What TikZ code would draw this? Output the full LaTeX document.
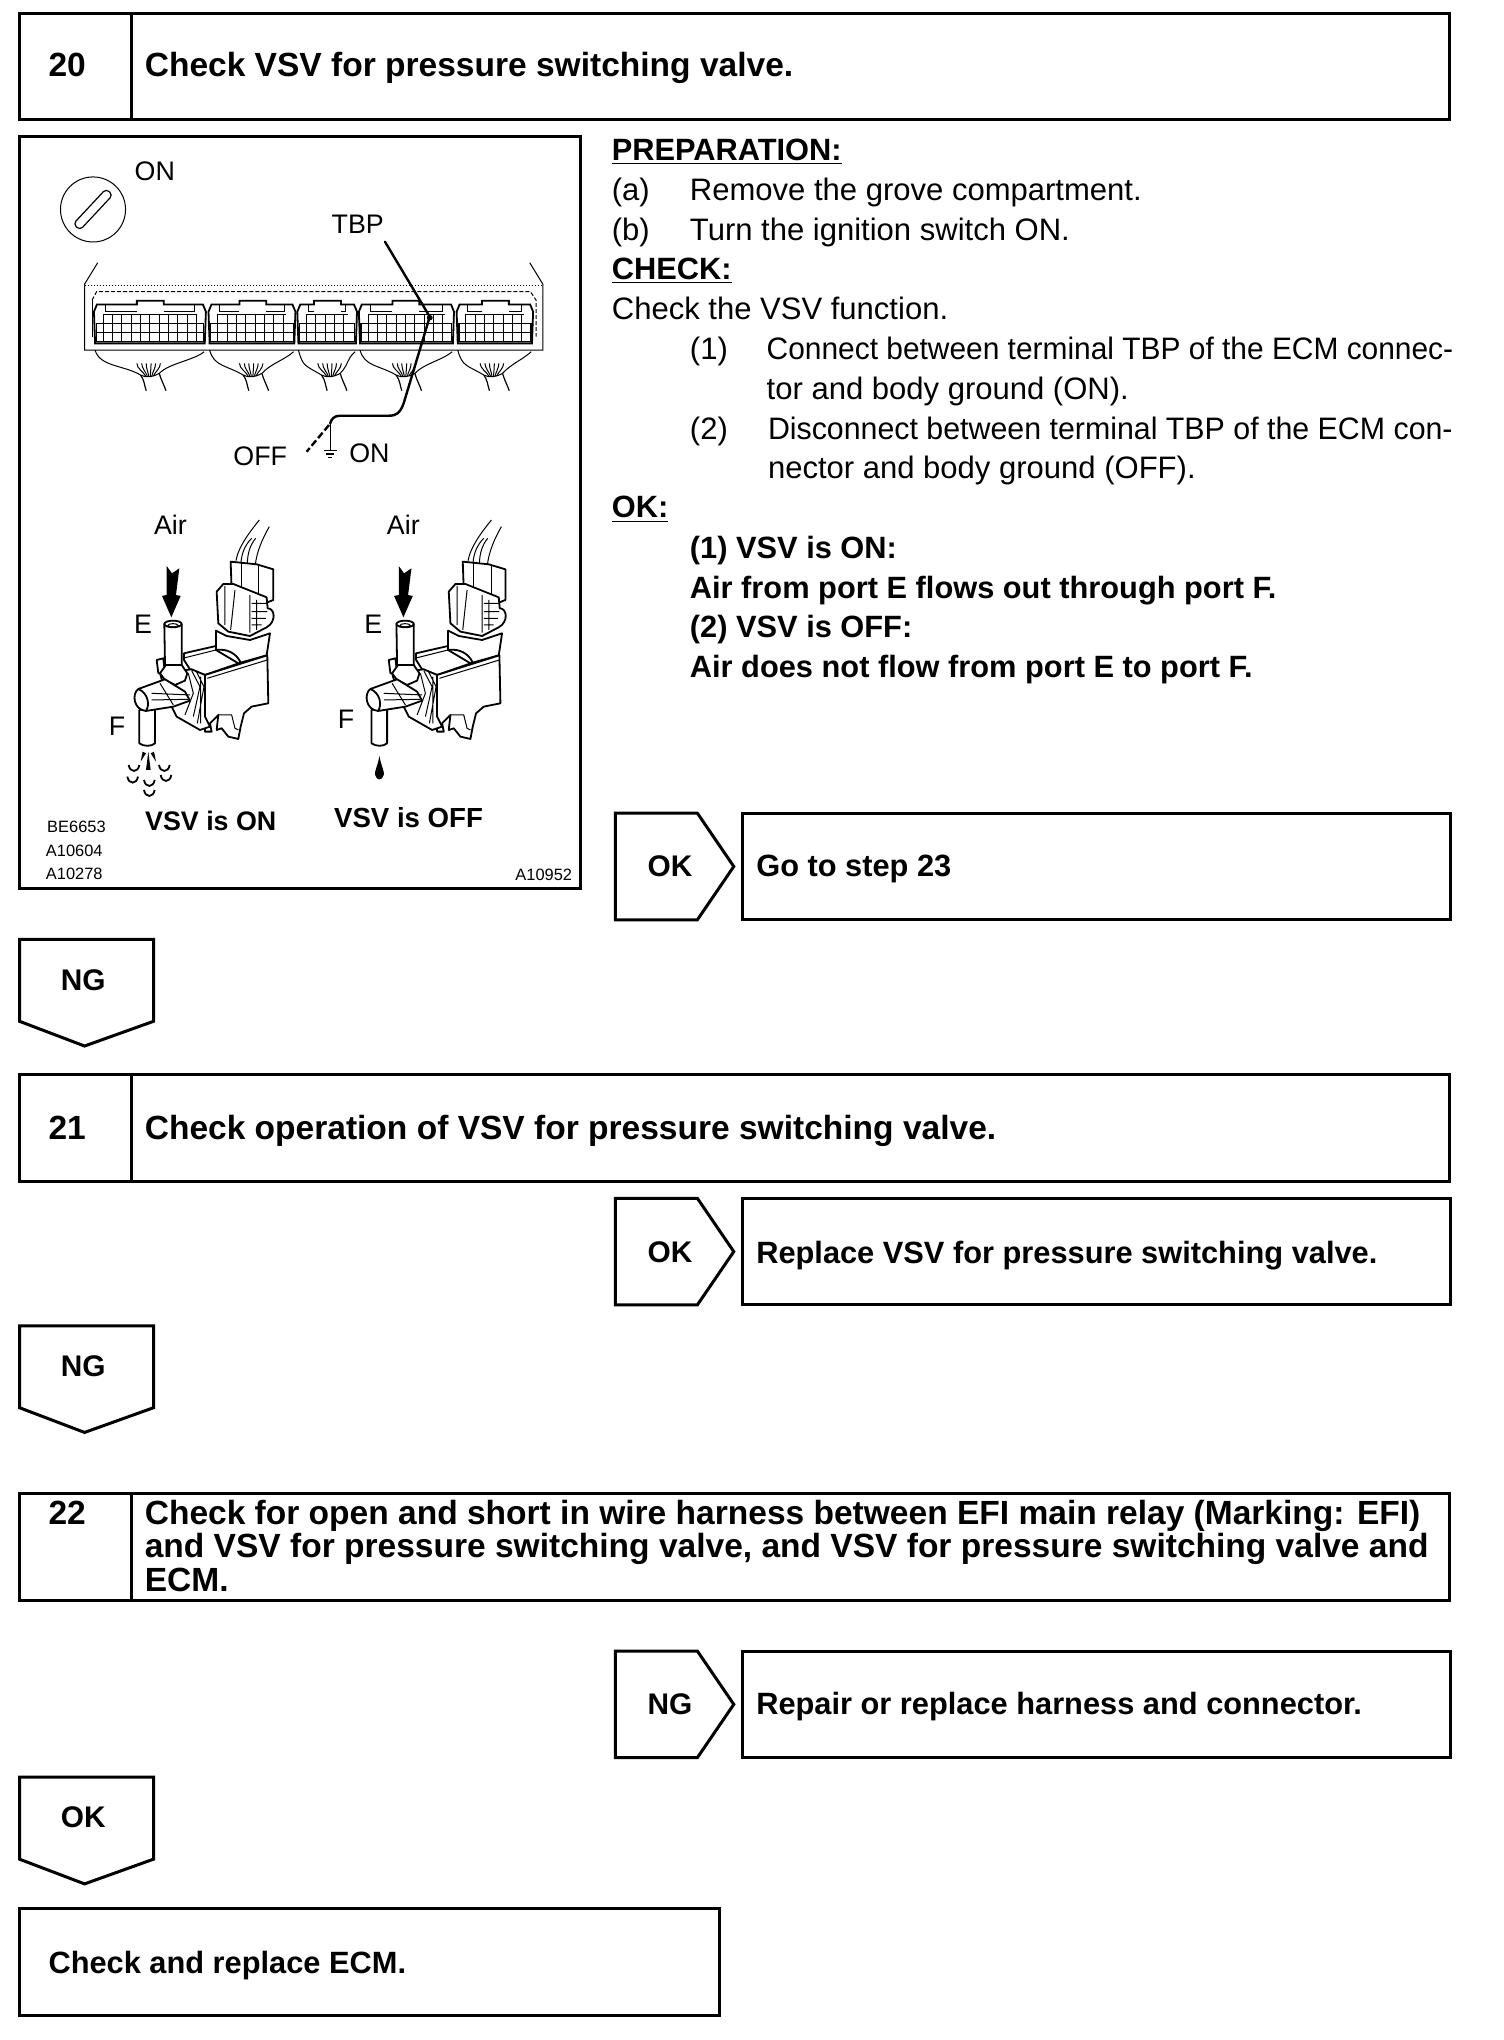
\documentclass[tikz,border=0pt]{standalone}
\usepackage{fontspec}
\setmainfont{Liberation Sans}
\usepackage{tikz}
\usetikzlibrary{positioning,arrows.meta}
\newcommand{\headfont}{\fontsize{16.75}{20}\selectfont\bfseries}
\newcommand{\bodyfont}{\fontsize{15.5}{20}\selectfont}
\newcommand{\boldfont}{\fontsize{15.38}{20}\selectfont\bfseries}
\newcommand{\markfont}{\fontsize{14.9}{20}\selectfont\bfseries}
\newcommand{\labelfont}{\fontsize{13.4}{16}\selectfont}
\newcommand{\codefont}{\fontsize{8.2}{10}\selectfont}

% one valve, written in the coordinates of the enlarged drawing
\newcommand{\vsvbody}{
  % wires
  \draw[fine] (448,30) .. controls (420,65) and (385,110) .. (378,152);
  \draw[fine] (478,50) .. controls (458,85) and (440,125) .. (436,165);
  \draw[fine] (425,85) .. controls (405,105) and (395,130) .. (393,158);
  \draw[fine] (437,85) .. controls (420,105) and (413,130) .. (412,160);
  % bracket
  \draw[outline] (222,430) -- (318,408) -- (392,458) -- (285,495) -- (240,478) -- (222,450) -- cycle;
  \draw[fine] (222,444) -- (318,420);
  % connector
  \draw[outline] (362,155) -- (440,163) -- (490,178) -- (490,270) -- (440,290) -- (365,240) -- cycle;
  \draw[fine] (395,160) -- (395,235) (447,167) -- (447,260);
  \draw[outline] (318,362) -- (318,420) -- (385,460) -- (470,436) -- (480,370) -- (420,390) -- (350,378) -- cycle;
  \draw[outline] (320,245) -- (340,222) -- (370,222) -- (415,240) -- (470,262) -- (473,295)
    .. controls (495,295) and (500,335) .. (470,352) -- (420,378) -- (355,365) -- (325,340) -- cycle;
  \draw[fine] (345,228) -- (345,345) (375,240) -- (362,360) (420,255) -- (420,368)
    (425,280) -- (472,280) (425,305) -- (472,305) (425,325) -- (468,325) (425,345) -- (455,345) (440,270) -- (440,360);
  \draw[line width=0.9pt] (318,420) .. controls (350,415) and (380,430) .. (392,458);
  % body
  \draw[outline] (285,495) -- (472,436) -- (475,580) -- (425,590) -- (402,610) -- (392,650) -- (385,687)
    -- (355,680) -- (335,655) -- (320,660) -- (325,615) -- (300,640) -- (305,665) -- (285,665) -- cycle;
  \draw[fine] (292,505) -- (472,450);
  \draw[fine] (325,615) -- (365,615) -- (375,655) -- (385,660);
  % spring seat
  \draw[outline] (150,490) -- (245,478) -- (285,495) -- (285,620) -- (300,650) -- (270,660) -- (200,620) -- (170,560) -- cycle;
  \draw[fine] (245,482) -- (270,530) -- (250,620) (258,482) -- (282,530) -- (262,640) (235,490) -- (250,550) -- (225,615)
    (272,500) -- (272,640);
  % port E
  \draw[outline] (140,450) -- (160,445) -- (165,490) -- (145,490) -- cycle;
  \draw[outline] (163,342) -- (165,465) -- (215,465) -- (215,342) -- cycle;
  \draw[outline] (189,342) ellipse (26 and 10);
  \draw[fine] (189,346) ellipse (15 and 5);
  \draw[outline] (150,490) -- (168,465) -- (215,465) -- (232,490) -- (225,512) -- (195,525) -- (165,510) -- cycle;
  % port F
  \draw[outline] (88,600) -- (88,700) .. controls (100,710) and (125,710) .. (135,700) -- (135,590) -- cycle;
  \draw[outline] (85,537) -- (165,508) -- (225,545) -- (240,572) -- (190,590) -- (108,603) -- cycle;
  \draw[outline] (85,537) .. controls (65,550) and (70,600) .. (108,603) .. controls (120,585) and (115,550) .. (85,537);
  \draw[fine] (125,550) -- (240,555) (125,570) -- (235,568) (150,520) -- (190,585);
  % air arrow
  \fill (170,168) -- (186,190) -- (208,175) -- (198,255) -- (212,258) -- (184,322) -- (156,258) -- (170,255) -- cycle;
}

\tikzset{
  x=0.65pt, y=-0.65pt,
  sketch/.style={x=0.1864pt, y=-0.1665pt},
  valve/.style={x=0.1665pt, y=-0.1665pt},
  frame/.style={draw, line width=1.5pt, inner sep=0pt, outer sep=0pt, anchor=north west},
  outline/.style={line width=0.9pt, fill=white, line join=round},
  fine/.style={line width=0.5pt},
  heavy/.style={line width=1.5pt, line join=miter},
  wire/.style={line width=1.2pt, line cap=round},
  head/.style={anchor=base west, inner sep=0pt, font=\headfont},
  body/.style={anchor=base west, inner sep=0pt, font=\bodyfont},
  boldline/.style={anchor=base west, inner sep=0pt, font=\boldfont},
  verdict/.style={anchor=base, inner sep=0pt, font=\markfont},
  tag/.style={anchor=base, inner sep=0pt, font=\labelfont},
  code/.style={anchor=base west, inner sep=0pt, font=\codefont},
}

\begin{document}
\begin{tikzpicture}
  \useasboundingbox (0,0) rectangle (1156,1568);

  % Step header bars
  \foreach \nm/\y in {twenty/10, twentyone/826, twentytwo/1148} {
    \node[frame, minimum width=1099*0.65pt, minimum height=82*0.65pt] (\nm) at (15,\y) {};
    \draw[heavy] (101,\y) -- ++(0,82);
  }
  \node[head] (numa) at (37,59) {20};
  \node[head] (heada) at (111,59) {Check VSV for pressure switching valve.};
  \node[head] (numb) at (37,876) {21};
  \node[head] (headb) at (111,876) {Check operation of VSV for pressure switching valve.};
  \node[head] (numc) at (37,1172) {22};
  \node[head] (headc) at (111,1172) {Check for open and short in wire harness between EFI main relay (Marking: EFI)};
  \node[head] (headd) at (111,1197) {and VSV for pressure switching valve, and VSV for pressure switching valve and};
  \node[head] (heade) at (111,1223) {ECM.};

  % Result boxes on the right
  \foreach \nm/\y in {resa/625, resb/921, resc/1269} {
    \draw[heavy] (473,\y) -- ++(63,0) -- ++(28,41) -- ++(-28,41) -- ++(-63,0) -- cycle;
    \node[frame, minimum width=543.5*0.65pt, minimum height=82*0.65pt] (\nm) at (571,\y) {};
  }
  \node[verdict] (oka) at (515,674) {OK};
  \node[boldline] (texta) at (581,674) {Go to step 23};
  \node[verdict] (okb) at (515,970) {OK};
  \node[boldline] (textb) at (581,971) {Replace VSV for pressure switching valve.};
  \node[verdict] (ngc) at (515,1318) {NG};
  \node[boldline] (textc) at (581,1318) {Repair or replace harness and connector.};

  % Down arrows on the left
  \foreach \y in {722, 1019, 1366} {
    \draw[heavy] (15,\y) -- ++(103,0) -- ++(0,63) -- ++(-53,19) -- ++(-50,-19) -- cycle;
  }
  \node[verdict] (nga) at (64,761) {NG};
  \node[verdict] (ngb) at (64,1058) {NG};
  \node[verdict] (okc) at (64,1405) {OK};

  % Last box
  \node[frame, minimum width=538*0.65pt, minimum height=82*0.65pt] (last) at (15,1467) {};
  \node[boldline] (lasttext) at (37,1517) {Check and replace ECM.};

  % Instructions
  \node[boldline] (prep) at (470,123) {\underline{PREPARATION:}};
  \node[body] (ia) at (470,154) {(a)};
  \node[body] (ta) at (530,154) {Remove the grove compartment.};
  \node[body] (ib) at (470,185) {(b)};
  \node[body] (tb) at (530,185) {Turn the ignition switch ON.};
  \node[boldline] (chk) at (470,215) {\underline{CHECK:}};
  \node[body] (tc) at (470,245.5) {Check the VSV function.};
  \node[body] (ic) at (530,276) {(1)};
  \node[body] (td) at (589,276) {\scalebox{0.964}[1]{Connect between terminal TBP of the ECM connec-}};
  \node[body] (te) at (589,307) {tor and body ground (ON).};
  \node[body] (id) at (530,338) {(2)};
  \node[body] (tf) at (590,338) {\scalebox{0.978}[1]{Disconnect between terminal TBP of the ECM con-}};
  \node[body] (tg) at (590,368) {nector and body ground (OFF).};
  \node[boldline] (okl) at (470,398) {\underline{OK:}};
  \node[boldline] (la) at (530,429) {(1) VSV is ON:};
  \node[boldline] (lb) at (530,460) {Air from port E flows out through port F.};
  \node[boldline] (lc) at (530,490) {(2) VSV is OFF:};
  \node[boldline] (ld) at (530,521) {Air does not flow from port E to port F.};

  % Picture frame
  \node[frame, minimum width=431*0.65pt, minimum height=578*0.65pt] (pic) at (15,105) {};

  % Ignition switch
  \draw[fine] (71.5,161) circle (25);
  \draw[line width=0.6pt, rounded corners=2pt, rotate around={47:(71.5,161)}] (53,157.5) rectangle (90,164.5);
  \node[tag] (switchon) at (119,139) {ON};

  % ECM and its connectors
  \begin{scope}[shift={(7.7,100)}, sketch]
    \draw[fine] (235,398) -- (200,462) -- (200,660) -- (1428,660) -- (1428,462) -- (1393,398);
    \draw[fine, densely dotted] (200,465) -- (1428,465);
    \draw[fine, dash pattern=on 2pt off 1pt] (220,510) -- (232,485) -- (1395,485) -- (1410,510) -- (1410,620);
    \draw[fine] (220,510) -- (220,620);
    \foreach \xa/\xb/\nb/\cx in {225/525/375/375, 532/765/650/650, 770/930/850/860, 935/1190/1060/1060, 1197/1402/1300/1295} {
      \draw[line width=0.9pt] (\xa+3,640) -- (\xa,545) -- (\xa+8,523) -- (\nb-35,523) -- (\nb-35,512)
        -- (\nb+37,512) -- (\nb+37,523) -- (\xb-8,523) -- (\xb,545) -- (\xb-3,640) -- cycle;
      \draw[line width=0.7pt] (\xa+6,580) -- (\xb-6,580) -- (\xb-6,635) -- (\xa+6,635) -- cycle;
      \draw[fine] (\xa+6,607) -- (\xb-6,607) (\xa+25,553) -- (\xb-25,553);
      \pgfmathtruncatemacro{\cells}{(\xb-\xa-20)/25}
      \foreach \k in {1,...,\cells} {
        \draw[fine] (\xa+\k*25,553) -- (\xa+\k*25,635);
      }
      \draw[fine] (\xa+30,523) -- (\xa+30,545) -- (\nb-35,545);
      \draw[fine] (\nb+37,545) -- (\xb-30,545) -- (\xb-30,523);
      % wire bundle below
      \draw[fine] (\xa+3,660) .. controls (\xa+15,710) and (\cx-70,705) .. (\cx-25,735)
        .. controls (\cx-10,745) and (\cx+10,740) .. (\cx+25,730);
      \draw[fine] (\cx+25,730) .. controls (\cx+50,700) and (\xb-30,690) .. (\xb-5,665);
      \draw[line width=0.6pt] (\cx-25,735) .. controls (\cx-15,750) and (\cx-15,765) .. (\cx-10,782);
      \draw[line width=0.6pt] (\cx+25,730) .. controls (\cx+30,750) and (\cx+38,765) .. (\cx+43,782);
      \foreach \fan in {-35,-22,-10,3,15,28} {
        \draw[fine] (\cx+\fan/3,738) .. controls (\cx+\fan/2,725) and (\cx+\fan,715) .. (\cx+\fan,700);
      }
    }
    % TBP lead
    \draw[wire, line join=round] (1005,335) -- (1125,560);
    \fill (1125,563) circle (8);
    \draw[wire] (1125,560) -- (1055,820) .. controls (1045,850) and (1035,857) .. (1015,857)
      -- (885,857) .. controls (870,857) and (862,865) .. (858,880);
    \draw[wire, line cap=butt, dash pattern=on 3.5pt off 1.5pt] (855,885) -- (795,965);
    \draw[line width=0.6pt] (858,880) -- (858,960);
    \draw[line width=0.6pt] (842,962) -- (876,962) (848,972) -- (868,972) (853,982) -- (863,982);
  \end{scope}
  \node[tag] (tbp) at (275,179.5) {TBP};
  \node[tag] (off) at (200,358) {OFF};
  \node[tag] (groundon) at (284,355.5) {ON};

  % Valve with VSV on
  \begin{scope}[shift={(84.55,392)}, valve]
    \vsvbody
    \fill (115,725) -- (122,780) -- (108,780) -- cycle;
    \fill (98,725) -- (108,730) -- (92,755) -- cycle;
    \fill (132,725) -- (122,730) -- (138,755) -- cycle;
    \foreach \ax/\ay in {72/765, 163/765, 68/800, 118/810, 168/795, 118/840} {
      \draw[line width=0.9pt] (\ax-16,\ay) .. controls (\ax-12,\ay+24) and (\ax+12,\ay+24) .. (\ax+16,\ay);
    }
  \end{scope}
  % Valve with VSV off
  \begin{scope}[shift={(262.95,392)}, valve]
    \vsvbody
    \fill (112,738) .. controls (117,768) and (128,785) .. (125,795)
      .. controls (121,813) and (103,813) .. (99,795) .. controls (96,785) and (107,768) .. (112,738);
  \end{scope}

  \node[tag] (aira) at (131,410.5) {Air};
  \node[tag] (airb) at (310,410.5) {Air};
  \node[tag] (porte) at (110,487) {E};
  \node[tag] (portf) at (90,565) {F};
  \node[tag] (portg) at (287,487) {E};
  \node[tag] (porth) at (266,560) {F};
  \node[tag, font=\fontsize{13.4}{16}\selectfont\bfseries] (vsvon) at (162,638) {VSV is ON};
  \node[tag, font=\fontsize{13.8}{16}\selectfont\bfseries] (vsvoff) at (314,636) {VSV is OFF};
  \node[code] (coda) at (36,640) {BE6653};
  \node[code] (codb) at (35,658) {A10604};
  \node[code] (codc) at (35,676) {A10278};
  \node[code, anchor=base east] (codd) at (440,677) {A10952};
\end{tikzpicture}
\end{document}
